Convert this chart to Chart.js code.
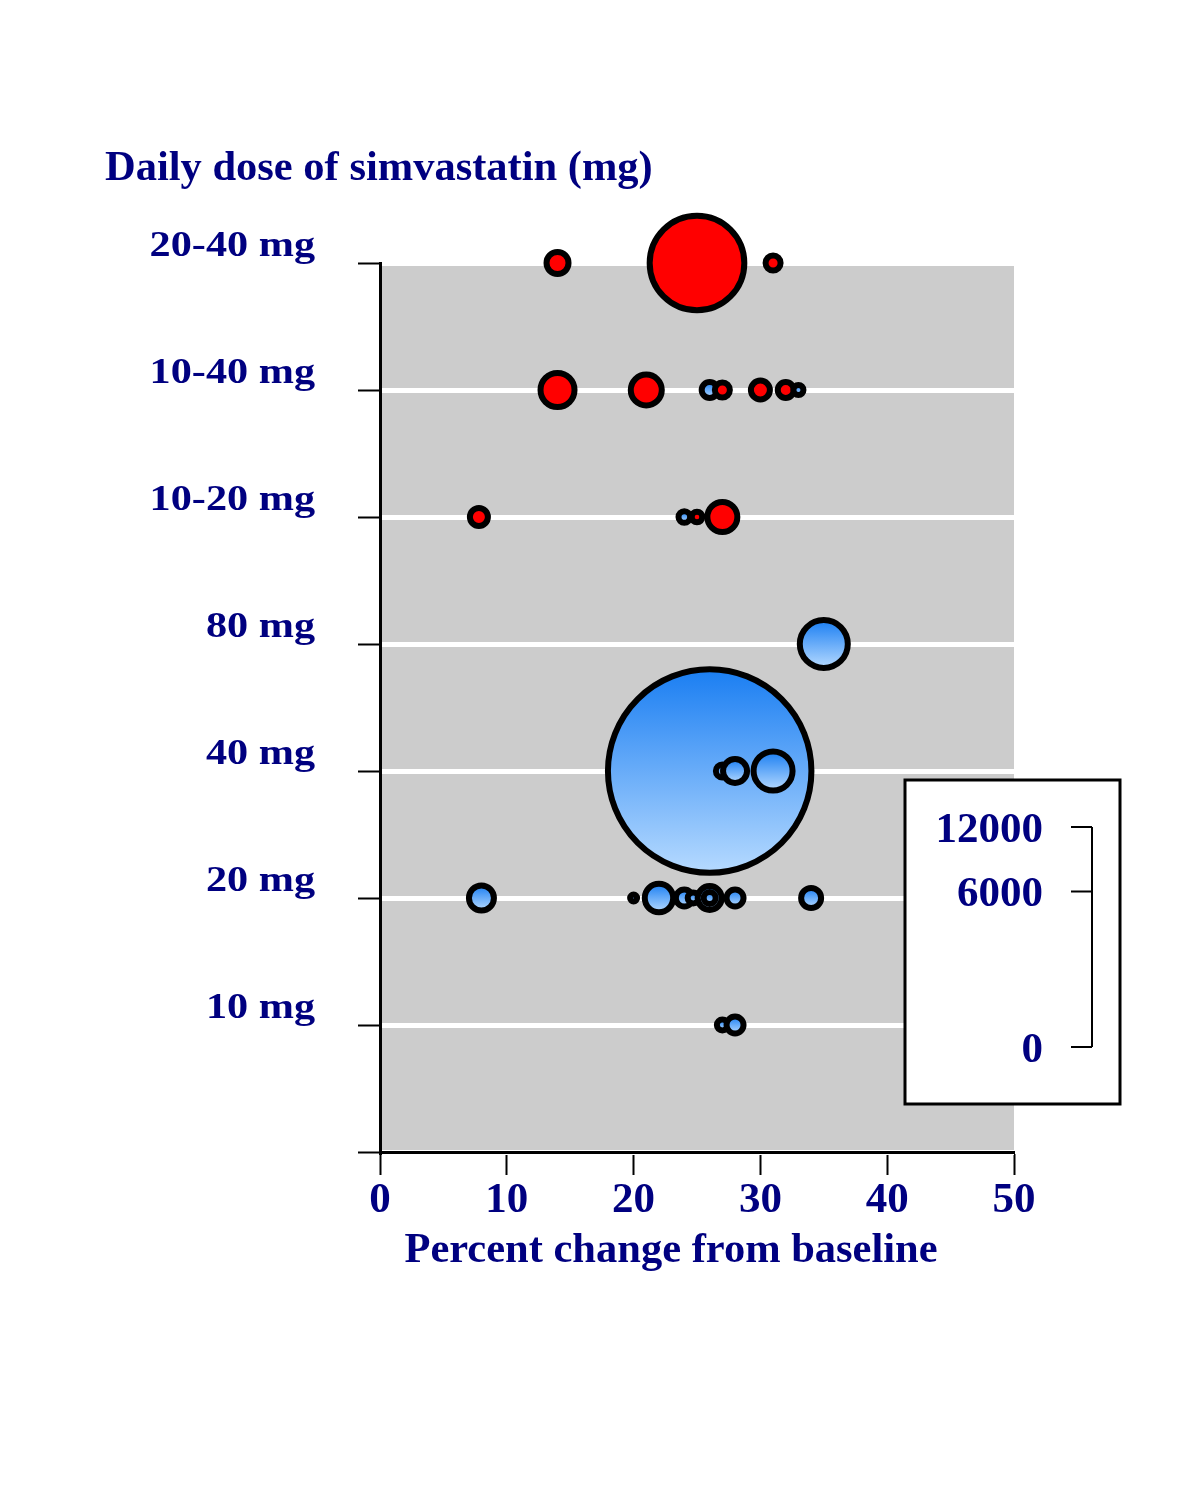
<!DOCTYPE html>
<html><head><meta charset="utf-8">
<script src="https://cdn.jsdelivr.net/npm/chart.js@4.4.1/dist/chart.umd.min.js"></script>
<style>html,body{margin:0;padding:0;background:#fff}canvas{display:block}</style>
</head><body><canvas id="c" width="1200" height="1500"></canvas>
<script>
// ---- data ----
const doseLabels = ['', '10 mg', '20 mg', '40 mg', '80 mg', '10-20 mg', '10-40 mg', '20-40 mg'];
const pctChange  = [14, 25, 31,
                    14, 21, 26, 27, 30, 32, 33,
                    7.8, 24, 25, 27,
                    35,
                    26, 27, 28, 31,
                    8, 20, 22, 24, 24.7, 26, 26, 28, 34,
                    27, 28];
const doseRow    = [7, 7, 7,
                    6, 6, 6, 6, 6, 6, 6,
                    5, 5, 5, 5,
                    4,
                    3, 3, 3, 3,
                    2, 2, 2, 2, 2, 2, 2, 2, 2,
                    1, 1];
const sampleSize = [240, 4444, 112,
                    573, 477, 127, 112, 179, 127, 50,
                    161, 67, 56, 446,
                    1143,
                    20536, 84, 286, 754,
                    310, 24, 400, 143, 60, 286, 71, 143, 198,
                    60, 143];
const colorGroup = ['R','R','R',
                    'R','R','B','R','R','R','B',
                    'R','B','R','R',
                    'B',
                    'B','B','B','B',
                    'B','B','B','B','B','B','B','B','B',
                    'B','B'];
const xTickValues  = [0, 10, 20, 30, 40, 50];
const legendTicks  = [0, 6000, 12000];
const legendMax    = 12000;

// ---- styling ----
const NAVY = '#000080';
const FONT = "'Liberation Serif', 'Times New Roman', serif";
const RADIUS_K = 0.71;

const points = pctChange.map((x, i) => ({ x: x, y: doseRow[i], r: RADIUS_K * Math.sqrt(sampleSize[i]) }));

function fillFor(ctx) {
  const i = ctx.dataIndex;
  if (colorGroup[i] === 'R') return '#ff0000';
  const chart = ctx.chart;
  const ys = chart.scales && chart.scales.y;
  if (!ys || !chart.chartArea) return '#5aa8f8';
  const cy = ys.getPixelForValue(doseRow[i]);
  const r = points[i].r;
  const g = chart.ctx.createLinearGradient(0, cy - r, 0, cy + r);
  g.addColorStop(0, '#1a7ef2');
  g.addColorStop(1, '#b6daff');
  return g;
}

const bgPlugin = {
  id: 'bg',
  beforeDraw(chart) {
    const a = chart.chartArea, c = chart.ctx;
    c.save();
    c.fillStyle = '#cccccc';
    c.fillRect(a.left, a.top, a.right - a.left, a.bottom - a.top);
    c.restore();
  }
};

const textPlugin = {
  id: 'texts',
  afterDraw(chart) {
    const c = chart.ctx;
    c.save();
    c.fillStyle = NAVY;
    c.font = 'bold 42.5px ' + FONT;
    c.textBaseline = 'alphabetic';
    c.textAlign = 'left';
    c.fillText('Daily dose of simvastatin (mg)', 105, 180);
    c.textAlign = 'center';
    c.fillText('Percent change from baseline', 671, 1262);

    // y category labels (wide lettering), placed from the y scale's ticks
    const ys = chart.scales.y;
    c.textAlign = 'right';
    c.font = 'bold 35.5px ' + FONT;
    ys.ticks.forEach(t => {
      const lab = doseLabels[t.value];
      if (!lab) return;
      const y = ys.getPixelForValue(t.value) - 7;
      c.save();
      c.translate(ys.right - 22 - 43, y);
      c.scale(1.19, 1);
      c.fillText(lab, 0, 0);
      c.restore();
    });

    // size legend box
    c.fillStyle = '#ffffff';
    c.fillRect(905, 780, 215, 324);
    c.strokeStyle = '#000';
    c.lineWidth = 3;
    c.strokeRect(905, 780, 215, 324);
    const y0 = 1047, L = 220, xl = 1092;
    const yFor = v => y0 - L * Math.sqrt(v / legendMax);
    c.lineWidth = 2;
    c.beginPath();
    c.moveTo(xl, yFor(legendMax));
    c.lineTo(xl, y0);
    legendTicks.forEach(v => { const y = yFor(v); c.moveTo(1071, y); c.lineTo(xl, y); });
    c.stroke();
    c.fillStyle = NAVY;
    c.font = 'bold 43px ' + FONT;
    c.textAlign = 'right';
    legendTicks.forEach(v => c.fillText(String(v), 1043, yFor(v) + 15));
    c.restore();
  }
};

new Chart(document.getElementById('c'), {
  type: 'bubble',
  data: {
    datasets: [{
      data: points,
      backgroundColor: fillFor,
      borderColor: '#000000',
      borderWidth: 6,
      hoverBorderWidth: 6,
      clip: false
    }]
  },
  options: {
    responsive: false,
    animation: false,
    events: [],
    layout: { padding: { left: 0, right: 186, top: 263, bottom: 248 } },
    plugins: { legend: { display: false }, tooltip: { enabled: false }, title: { display: false } },
    scales: {
      x: {
        type: 'linear', min: 0, max: 50,
        afterFit(s) { s.height = 100; },
        afterBuildTicks(s) { s.ticks = xTickValues.map(v => ({ value: v })); },
        grid: { drawOnChartArea: false, drawTicks: true, tickLength: 23, tickColor: '#000', tickWidth: 2 },
        border: { display: true, color: '#000', width: 3 },
        ticks: { color: NAVY, font: { family: FONT, size: 43, weight: 'bold' }, padding: 0, maxRotation: 0 }
      },
      y: {
        type: 'linear', min: 0, max: 7,
        afterFit(s) { s.width = 380; },
        grid: { color: '#ffffff', lineWidth: 5, drawTicks: true, tickLength: 22, tickColor: '#000', tickWidth: 2 },
        border: { display: true, color: '#000', width: 3 },
        ticks: { stepSize: 1, display: false }
      }
    }
  },
  plugins: [bgPlugin, textPlugin]
});
</script></body></html>
